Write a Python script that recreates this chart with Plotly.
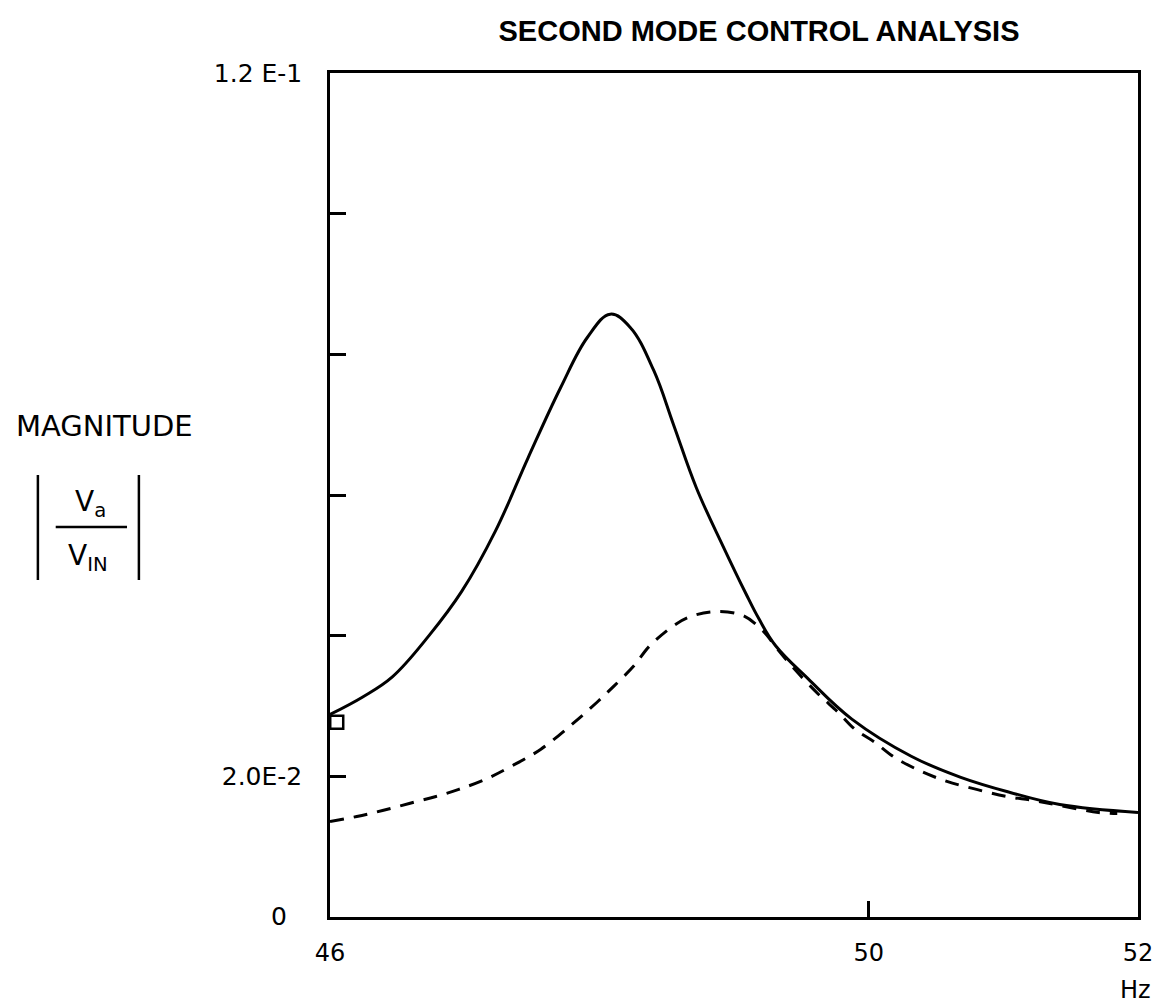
import plotly.graph_objects as go

# ---- data ----
freq_solid = [46.0, 46.243, 46.463, 46.735, 46.978, 47.228, 47.471, 47.713, 47.912, 48.081,
              48.228, 48.404, 48.551, 48.721, 48.919, 49.088, 49.184, 49.309, 49.551, 49.875,
              50.316, 50.684, 51.051, 51.419, 52.0]
mag_solid = [0.0288, 0.03129, 0.03414, 0.0400, 0.04629, 0.05486, 0.06529, 0.07529, 0.08243, 0.08571,
             0.08386, 0.07771, 0.0700, 0.0610, 0.05271, 0.0460, 0.04243, 0.03857, 0.03386, 0.02814,
             0.02286, 0.01986, 0.01771, 0.0160, 0.01486]

freq_dashed = [46.0, 46.199, 46.390, 46.588, 46.787, 46.956, 47.154, 47.346, 47.566, 47.816,
               47.985, 48.110, 48.257, 48.375, 48.574, 48.699, 48.868, 49.066, 49.221, 49.309,
               49.434, 49.625, 49.772, 49.897, 50.044, 50.191, 50.390, 50.581, 50.801, 51.022,
               51.221, 51.419, 51.706, 51.846]
mag_dashed = [0.01357, 0.01429, 0.01514, 0.01614, 0.01714, 0.01814, 0.01957, 0.02143, 0.02386, 0.02771,
              0.03057, 0.03286, 0.03571, 0.03857, 0.04171, 0.04286, 0.04343, 0.04286, 0.04057, 0.03843,
              0.03557, 0.03171, 0.02914, 0.02671, 0.02486, 0.02271, 0.02071, 0.01929, 0.01814, 0.01714,
              0.01657, 0.01586, 0.01486, 0.01471]

marker_x = [46.05]
marker_y = [0.0277]

y_tickvals = [0.02, 0.04, 0.06, 0.08, 0.10, 0.12]
y_ticktext = ["2.0E-2", "", "", "", "", "1.2 E-1"]
x_tickvals = [46, 50, 52]
x_ticktext = ["46", "50", "52"]

# ---- layout geometry (pixels) ----
W, H = 1165, 1004
L, R, T, B = 330, 1146, 73, 917


def px(x):
    return (x - L) / (R - L)


def py(y):
    return (B - y) / (B - T)


FONT = "DejaVu Sans"

fig = go.Figure()
fig.add_trace(go.Scatter(x=freq_solid, y=mag_solid, mode="lines", line_shape="spline",
                         line=dict(color="black", width=3, smoothing=1.1), showlegend=False))
fig.add_trace(go.Scatter(x=freq_dashed, y=mag_dashed, mode="lines", line_shape="spline",
                         line=dict(color="black", width=3, dash="14px,10px", smoothing=1.0),
                         showlegend=False))
fig.add_trace(go.Scatter(x=marker_x, y=marker_y, mode="markers",
                         marker=dict(symbol="square-open", size=13, color="black",
                                     line=dict(width=2.5, color="black")),
                         showlegend=False))

fig.update_layout(
    width=W, height=H,
    margin=dict(l=L, r=W - R, t=T, b=H - B),
    paper_bgcolor="white", plot_bgcolor="white",
    font=dict(family=FONT, color="black"),
    title=dict(text="<b>SECOND MODE CONTROL ANALYSIS</b>", x=759 / W, xanchor="center",
               y=1 - 31 / H, yanchor="middle",
               font=dict(family="Liberation Sans", size=29, color="black")),
)
fig.update_xaxes(range=[46, 52], showgrid=False, zeroline=False,
                 showline=True, linecolor="black", linewidth=2.5, mirror=True,
                 tickmode="array", tickvals=x_tickvals, ticktext=x_ticktext,
                 ticks="inside", ticklen=16, tickwidth=3, tickcolor="black",
                 ticklabelstandoff=12,
                 tickfont=dict(family=FONT, size=24, color="black"))
fig.update_yaxes(range=[0, 0.12], showgrid=False, zeroline=False,
                 showline=True, linecolor="black", linewidth=2.5, mirror=True,
                 tickmode="array", tickvals=y_tickvals, ticktext=y_ticktext,
                 ticks="inside", ticklen=16, tickwidth=3, tickcolor="black",
                 ticklabelstandoff=20,
                 tickfont=dict(family=FONT, size=25, color="black"))

ann = [
    dict(text="0", x=px(278), y=py(916), font=dict(size=25)),
    dict(text="Hz", x=px(1143), y=py(990), font=dict(size=24)),
    dict(text="MAGNITUDE", x=px(102), y=py(426), font=dict(size=29)),
    dict(text="V<sub>a</sub>", x=px(88), y=py(503), font=dict(size=28)),
    dict(text="V<sub>IN</sub>", x=px(86), y=py(557), font=dict(size=28)),
]
for a in ann:
    a.update(xref="paper", yref="paper", showarrow=False, xanchor="center", yanchor="middle")
    a["font"].update(family=FONT, color="black")
fig.update_layout(annotations=ann)

shapes = [
    dict(type="line", x0=px(35), x1=px(35), y0=py(475), y1=py(580)),
    dict(type="line", x0=px(137), x1=px(137), y0=py(475), y1=py(580)),
    dict(type="line", x0=px(53), x1=px(125), y0=py(527), y1=py(527)),
]
for s in shapes:
    s.update(xref="paper", yref="paper", line=dict(color="black", width=2.5))
fig.update_layout(shapes=shapes)

fig.write_html("out.html",
               config={"displayModeBar": False, "responsive": False},
               post_script="document.body.style.margin='0';document.body.style.overflow='hidden';")
